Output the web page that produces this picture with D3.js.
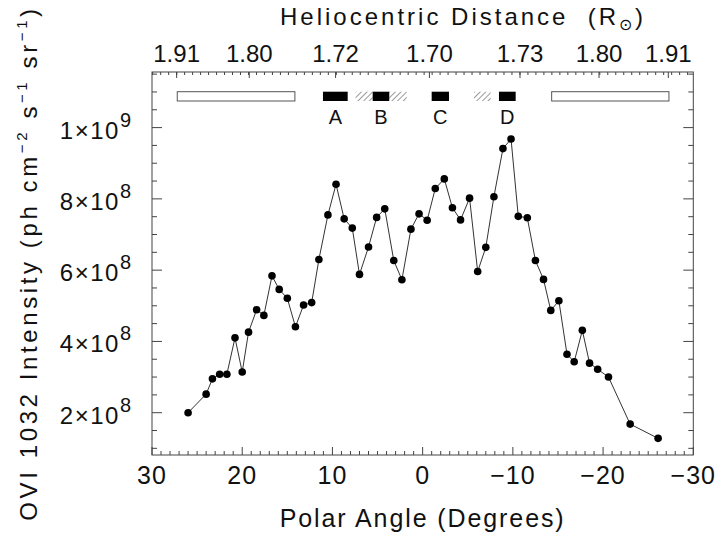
<!DOCTYPE html>
<html>
<head>
<meta charset="utf-8">
<script src="https://cdn.jsdelivr.net/npm/d3@7"></script>
<style>
  body { margin: 0; background: #fff; }
  text { font-family: "Liberation Sans", Arial, sans-serif; fill: #111; }
</style>
</head>
<body>
<div id="chart"></div>
<script>
// Polar angle (degrees) of each slit position
const angles = [26.0, 24.0, 23.3, 22.5, 21.7, 20.8, 20.0, 19.3, 18.4, 17.6,
  16.7, 15.9, 15.0, 14.1, 13.2, 12.3, 11.5, 10.5, 9.6, 8.7,
  7.8, 7.0, 6.0, 5.1, 4.2, 3.2, 2.3, 1.3, 0.4, -0.5,
  -1.4, -2.4, -3.3, -4.2, -5.2, -6.1, -7.0, -7.9, -8.9, -9.8,
  -10.6, -11.6, -12.5, -13.4, -14.2, -15.1, -16.0, -16.8, -17.7, -18.5,
  -19.4, -20.6, -23.0, -26.1];

// OVI 1032 intensity (ph cm-2 s-1 sr-1)
const intensity = [2.00e8, 2.52e8, 2.95e8, 3.08e8, 3.08e8, 4.10e8, 3.14e8, 4.26e8, 4.89e8, 4.73e8,
  5.84e8, 5.46e8, 5.21e8, 4.41e8, 5.02e8, 5.09e8, 6.30e8, 7.55e8, 8.41e8, 7.44e8,
  7.18e8, 5.88e8, 6.65e8, 7.48e8, 7.72e8, 6.27e8, 5.73e8, 7.15e8, 7.58e8, 7.40e8,
  8.29e8, 8.56e8, 7.75e8, 7.41e8, 8.02e8, 5.96e8, 6.64e8, 8.06e8, 9.41e8, 9.68e8,
  7.51e8, 7.47e8, 6.27e8, 5.74e8, 4.87e8, 5.14e8, 3.64e8, 3.43e8, 4.31e8, 3.39e8,
  3.22e8, 3.00e8, 1.68e8, 1.28e8];

// bottom axis
const xTicks = [30, 20, 10, 0, -10, -20, -30];

// top axis: heliocentric distance labels at their polar angle
const topTickAngles = [27.27, 19.22, 9.65, -0.75, -10.79, -19.55, -27.23];
const topTickLabels = ["1.91", "1.80", "1.72", "1.70", "1.73", "1.80", "1.91"];

// y axis labels: mantissa and exponent
const yTicks = [2e8, 4e8, 6e8, 8e8, 1e9];
const yMantissa = ["2", "4", "6", "8", "1"];
const yExponent = ["8", "8", "8", "8", "9"];

// regions marked above the profile (angle ranges)
const openRegions = [[27.2, 14.16], [-14.3, -27.3]];
const filledRegions = [[11.05, 8.31], [5.54, 3.70], [-1.0, -2.92], [-8.46, -10.31]];
const filledNames = ["A", "B", "C", "D"];
const hatchedRegions = [[7.43, 5.54], [3.70, 1.77], [-5.69, -7.54]];

const W = 721, H = 537;
const plot = {left: 152, right: 693.3, top: 72, bottom: 455};

const svg = d3.select("#chart").append("svg")
    .attr("width", W)
    .attr("height", H);

const x = d3.scaleLinear().domain([30, -30]).range([plot.left, plot.right]);
const y = d3.scaleLinear().domain([0.813e8, 1.156e9]).range([plot.bottom, plot.top]);

const axisColor = "#444";

// hatch pattern
svg.append("defs").append("pattern")
    .attr("id", "hatch")
    .attr("patternUnits", "userSpaceOnUse")
    .attr("width", 4)
    .attr("height", 4)
    .attr("patternTransform", "rotate(45)")
  .append("line")
    .attr("x1", 0).attr("y1", 0)
    .attr("x2", 0).attr("y2", 4)
    .attr("stroke", "#555")
    .attr("stroke-width", 1.2);

// frame
svg.append("rect")
    .attr("x", plot.left)
    .attr("y", plot.top)
    .attr("width", plot.right - plot.left)
    .attr("height", plot.bottom - plot.top)
    .attr("fill", "none")
    .attr("stroke", axisColor)
    .attr("stroke-width", 1);

// bottom ticks (inward)
const ticks = svg.append("g").attr("stroke", axisColor).attr("stroke-width", 1);
d3.range(30, -30.5, -1).forEach(v => {
  const major = Math.abs(v % 10) < 1e-6;
  const len = major ? 8 : 4;
  ticks.append("line")
      .attr("x1", x(v)).attr("x2", x(v))
      .attr("y1", plot.bottom).attr("y2", plot.bottom - len);
});

// top ticks (inward)
const topStep = 0.885;
const topMinor = d3.range(27.27, 30, topStep).concat(d3.range(27.27, -30, -topStep));
topMinor.forEach(v => {
  ticks.append("line")
      .attr("x1", x(v)).attr("x2", x(v))
      .attr("y1", plot.top).attr("y2", plot.top + 3);
});
topTickAngles.forEach(v => {
  ticks.append("line")
      .attr("x1", x(v)).attr("x2", x(v))
      .attr("y1", plot.top).attr("y2", plot.top + 6);
});

// left and right ticks
d3.range(1e8, 1.16e9, 0.5e8).forEach(v => {
  const major = yTicks.some(t => Math.abs(t - v) < 1);
  const len = major ? 10 : 5;
  ticks.append("line")
      .attr("x1", plot.left).attr("x2", plot.left + len)
      .attr("y1", y(v)).attr("y2", y(v));
  ticks.append("line")
      .attr("x1", plot.right).attr("x2", plot.right - len)
      .attr("y1", y(v)).attr("y2", y(v));
});

// bottom tick labels
xTicks.forEach(v => {
  svg.append("text")
      .attr("x", x(v))
      .attr("y", 484)
      .attr("text-anchor", "middle")
      .attr("font-size", 25)
      .attr("letter-spacing", 1)
      .text(v < 0 ? "\u2212" + Math.abs(v) : v);
});

// top tick labels
topTickAngles.forEach((v, i) => {
  svg.append("text")
      .attr("x", x(v))
      .attr("y", 62)
      .attr("text-anchor", "middle")
      .attr("font-size", 24)
      .text(topTickLabels[i]);
});

// y tick labels
yTicks.forEach((v, i) => {
  const t = svg.append("text")
      .attr("x", 131)
      .attr("y", y(v) + 11)
      .attr("text-anchor", "end")
      .attr("font-size", 24);
  t.append("tspan").attr("letter-spacing", 1.5).text(yMantissa[i] + "\u00d710");
  t.append("tspan")
      .attr("dy", -12)
      .attr("font-size", 20)
      .text(yExponent[i]);
});

// axis titles
svg.append("text")
    .attr("x", x(0))
    .attr("y", 527)
    .attr("text-anchor", "middle")
    .attr("font-size", 25)
    .attr("letter-spacing", 1.9)
    .text("Polar Angle (Degrees)");

const topTitle = svg.append("text")
    .attr("x", 280)
    .attr("y", 25)
    .attr("font-size", 24)
    .attr("letter-spacing", 3)
    .attr("xml:space", "preserve");
topTitle.append("tspan").text("Heliocentric Distance  (R");
topTitle.append("tspan").attr("font-size", 16).attr("dy", 5).text("\u2299");
topTitle.append("tspan").attr("dy", -5).text(")");

const yTitle = svg.append("text")
    .attr("transform", "translate(37, 263) rotate(-90)")
    .attr("text-anchor", "middle")
    .attr("font-size", 24)
    .attr("letter-spacing", 3.6);
yTitle.append("tspan").text("OVI 1032 Intensity (ph cm");
yTitle.append("tspan").attr("font-size", 15).attr("dy", -10).text("\u22122");
yTitle.append("tspan").attr("dy", 10).text(" s");
yTitle.append("tspan").attr("font-size", 15).attr("dy", -10).text("\u22121");
yTitle.append("tspan").attr("dy", 10).text(" sr");
yTitle.append("tspan").attr("font-size", 15).attr("dy", -10).text("\u22121");
yTitle.append("tspan").attr("dy", 10).text(")");

// region markers
const bandY = plot.top + 19.7, bandH = 9.3;
openRegions.forEach(r => {
  svg.append("rect")
      .attr("x", x(r[0])).attr("y", bandY)
      .attr("width", x(r[1]) - x(r[0])).attr("height", bandH)
      .attr("fill", "#fff")
      .attr("stroke", "#555")
      .attr("stroke-width", 1);
});
hatchedRegions.forEach(r => {
  svg.append("rect")
      .attr("x", x(r[0])).attr("y", bandY)
      .attr("width", x(r[1]) - x(r[0])).attr("height", bandH)
      .attr("fill", "url(#hatch)");
});
filledRegions.forEach((r, i) => {
  svg.append("rect")
      .attr("x", x(r[0])).attr("y", bandY)
      .attr("width", x(r[1]) - x(r[0])).attr("height", bandH)
      .attr("fill", "#000");
  svg.append("text")
      .attr("x", x((r[0] + r[1]) / 2))
      .attr("y", 123.5)
      .attr("text-anchor", "middle")
      .attr("font-size", 20)
      .text(filledNames[i]);
});

// profile
const points = angles.map((a, i) => ({angle: a, value: intensity[i]}));

const line = d3.line()
    .x(d => x(d.angle))
    .y(d => y(d.value));

svg.append("path")
    .datum(points)
    .attr("fill", "none")
    .attr("stroke", "#333")
    .attr("stroke-width", 1)
    .attr("d", line);

svg.selectAll("circle.pt")
    .data(points)
    .enter()
    .append("circle")
    .attr("class", "pt")
    .attr("cx", d => x(d.angle))
    .attr("cy", d => y(d.value))
    .attr("r", 3.8)
    .attr("fill", "#000");
</script>
</body>
</html>
